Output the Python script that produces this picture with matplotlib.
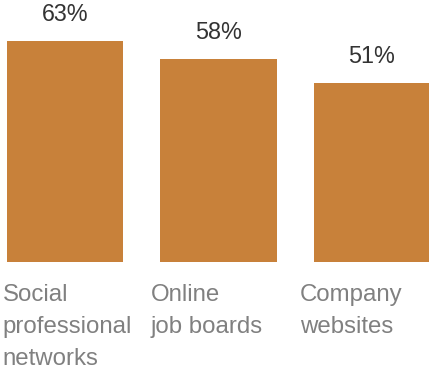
import matplotlib
matplotlib.use("Agg")
import matplotlib.pyplot as plt

# ---------- DATA ------------
categories = ["Social\nprofessional\nnetworks", "Online\njob boards", "Company\nwebsites"]
shares = [63, 58, 51]
# ------------------------------

# ---------- CONFIG ------------
bar_color = "#C8813A"
label_color = "#808080"
value_color = "#333333"
plt.rcParams['font.family'] = ['Liberation Sans', 'DejaVu Sans']
# ------------------------------

fig = plt.figure(figsize=(4.29, 3.69), dpi=100)
ax = fig.add_axes([0, 107 / 369, 1, 262 / 369])

x = list(range(len(shares)))
ax.bar(x, shares, width=0.756, color=bar_color)
ax.set_xlim(-65 / 153.5, (429 - 65) / 153.5)
ax.set_ylim(0, 262 / 3.507)
ax.axis("off")

for xi, v in zip(x, shares):
    ax.annotate(f"{v}%", (xi, v), xytext=(0, 14.4), textcoords="offset points",
                ha="center", va="baseline", fontsize=16.8, color=value_color)

# category names sit under each bar, left aligned a little before the bar edge
label_shift = [0.027, 0.065, 0.09]
for xi, name, s in zip(x, categories, label_shift):
    ax.annotate(name, (xi - 0.378 - s, 0), xytext=(0, -15.5), textcoords="offset points",
                ha="left", va="top", fontsize=17.3, color=label_color, linespacing=1.61,
                annotation_clip=False)

fig.savefig("out.png", dpi=100)
